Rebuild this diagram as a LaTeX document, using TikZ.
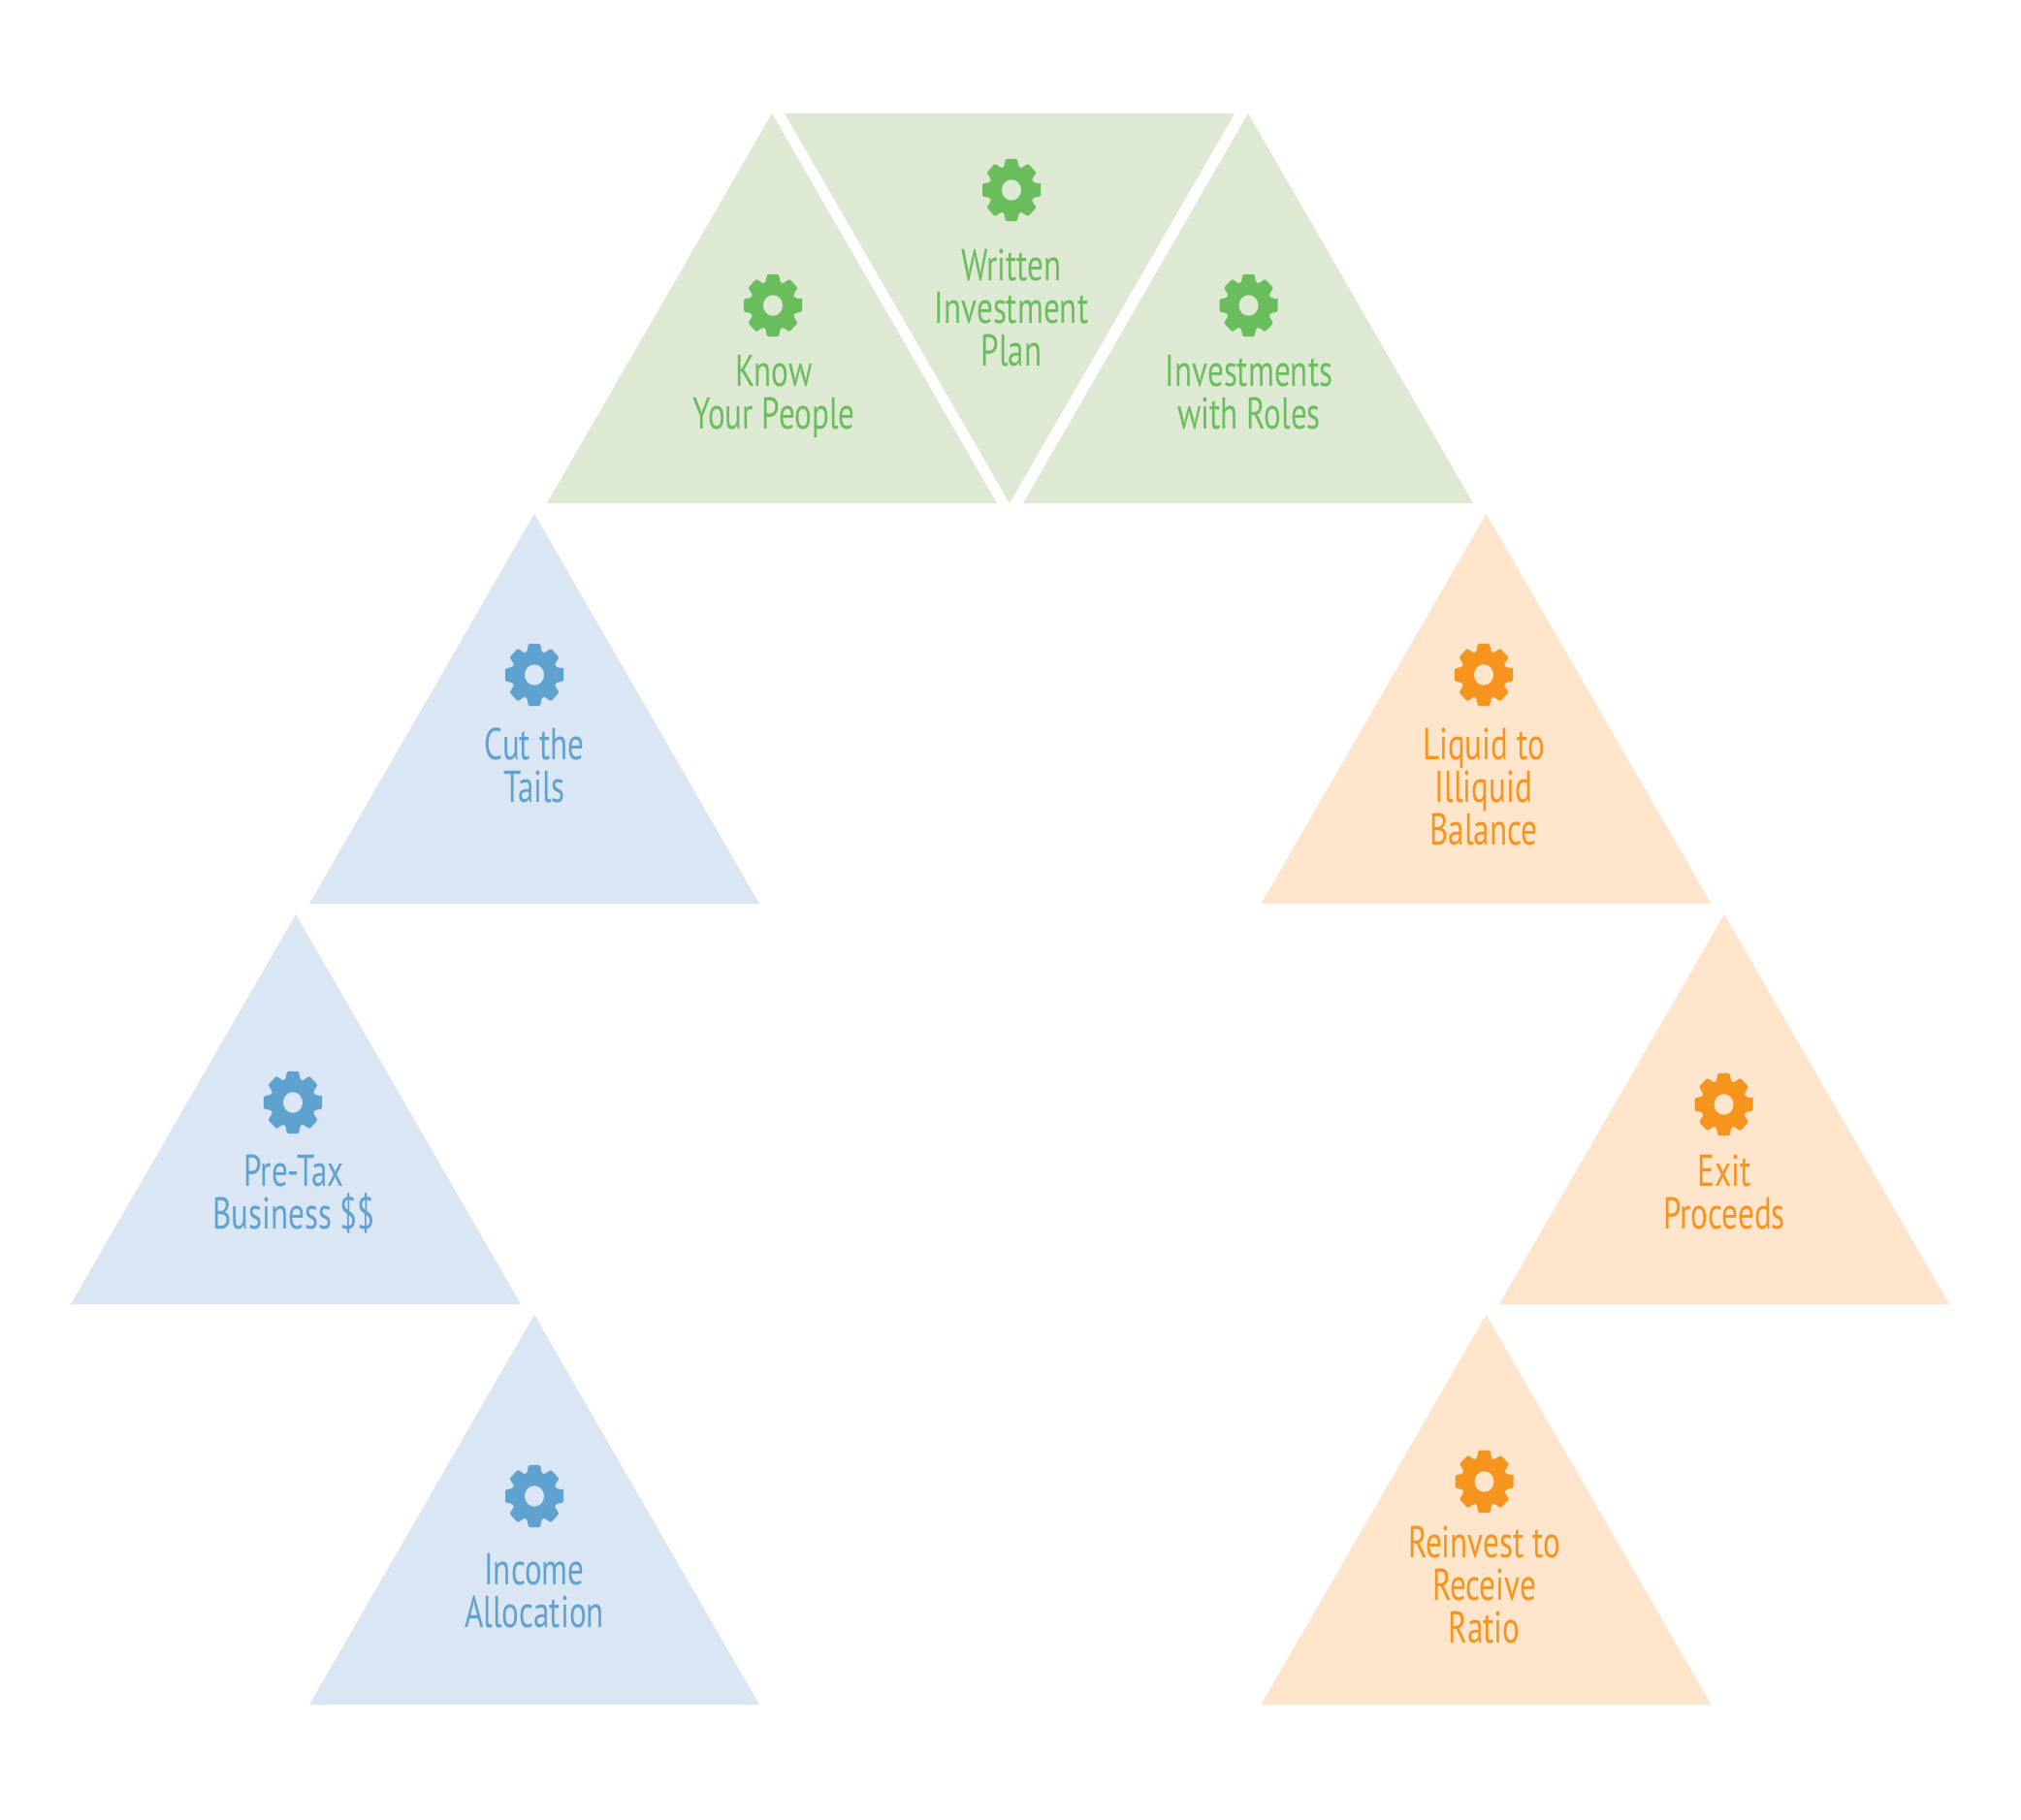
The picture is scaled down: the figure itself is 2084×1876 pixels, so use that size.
\documentclass[tikz,border=0pt]{standalone}
\usepackage{fontspec}
\setmainfont[FakeStretch=0.72]{PT Sans}
\definecolor{gl}{HTML}{DDE9D2}\definecolor{gd}{HTML}{6ABD5D}
\definecolor{bl}{HTML}{DBE6F4}\definecolor{bd}{HTML}{5FA2D0}
\definecolor{ol}{HTML}{FEE5CC}\definecolor{od}{HTML}{F7941E}
\newcommand{\tup}[3]{\fill[#3] (#1,#2) -- (#1+232,#2+402) -- (#1-232,#2+402) -- cycle;}
\newcommand{\tdown}[3]{\fill[#3] (#1,#2) -- (#1+232,#2-402) -- (#1-232,#2-402) -- cycle;}
\newcommand{\gear}[3]{\begin{scope}[shift={(#1,#2)},yscale=1.07]
\fill[#3,even odd rule,rounded corners=1.2pt] (-11.3+0:30.6) \foreach \a in {0,45,...,315}{ -- (\a-11.3:30.6) -- (\a+11.3:30.6) -- (\a+19:23.5) -- (\a+26:23.5)} -- cycle;
\fill[gearhole] (0,0) circle (10);
\end{scope}}
\newcommand{\lbl}[5]{\node[lab,text=#5] (#1) at (#2,#3-35) {\rule{0pt}{35pt}#4};}
\tikzset{lab/.style={anchor=north,align=center,inner sep=0pt,font=\fontsize{46}{44}\selectfont}}
\begin{document}
\begin{tikzpicture}[x=1pt,y=-1pt]
\useasboundingbox (0,0) rectangle (2084,1876);
\fill[white] (0,0) rectangle (2084,1876);
\tup{796}{117}{gl}\tdown{1041}{519}{gl}\tup{1287}{117}{gl}
\tup{551}{530}{bl}\tup{305}{943}{bl}\tup{551}{1356}{bl}
\tup{1532.5}{530}{ol}\tup{1778}{943}{ol}\tup{1532.5}{1356}{ol}
\tikzset{gearhole/.style={gl}}
\gear{797}{315}{gd}\gear{1043}{196}{gd}\gear{1287.5}{315}{gd}
\tikzset{gearhole/.style={bl}}
\gear{551}{696}{bd}\gear{302}{1137}{bd}\gear{551}{1543}{bd}
\tikzset{gearhole/.style={ol}}
\gear{1530}{696}{od}\gear{1777.5}{1139}{od}\gear{1530.5}{1528}{od}
\lbl{know}{798}{398}{Know\\Your People}{gd}
\lbl{written}{1043}{289}{Written\\Investment\\Plan}{gd}
\lbl{roles}{1288}{398}{Investments\\with Roles}{gd}
\lbl{tails}{551}{783}{Cut the\\Tails}{bd}
\lbl{pretax}{303}{1223}{Pre-Tax\\Business \$\$}{bd}
\lbl{income}{551}{1634}{Income\\Allocation}{bd}
\lbl{liquid}{1530}{783}{Liquid to\\Illiquid\\Balance}{od}
\lbl{exit}{1778}{1223}{Exit\\Proceeds}{od}
\lbl{reinvest}{1530.5}{1606}{Reinvest to\\Receive\\Ratio}{od}
\end{tikzpicture}
\end{document}
